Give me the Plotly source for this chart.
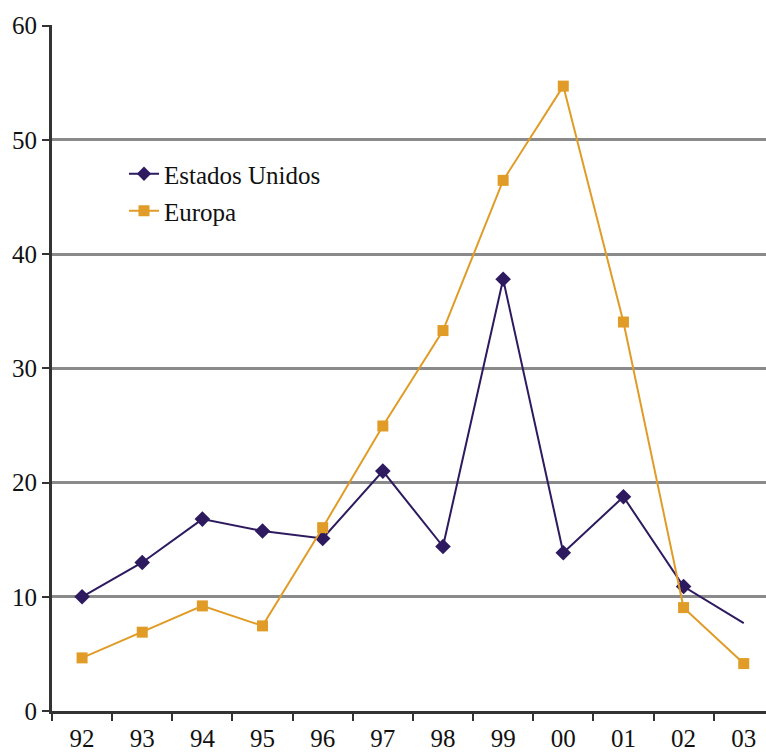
import plotly.graph_objects as go

years = ["92", "93", "94", "95", "96", "97", "98", "99", "00", "01", "02", "03"]
estados_unidos = [10.0, 13.0, 16.8, 15.75, 15.1, 21.0, 14.4, 37.8, 13.85, 18.75, 10.9, 7.7]
europa = [4.65, 6.9, 9.2, 7.45, 16.05, 24.95, 33.3, 46.45, 54.7, 34.05, 9.05, 4.15]

W, H = 766, 754
ML, MR, MT, MB = 52, 0, 25, 43
PW, PH = W - ML - MR, H - MT - MB
FONT = "Liberation Serif, Times New Roman, serif"
US_COLOR = "#2D1A5F"
EU_COLOR = "#E09C26"

# last US point is drawn as the end of the line only, without a marker
us_sizes = [12] * (len(years) - 1) + [0]

fig = go.Figure()
fig.add_trace(go.Scatter(
    x=years, y=estados_unidos, name="Estados Unidos", mode="lines+markers",
    line=dict(color=US_COLOR, width=2),
    marker=dict(symbol="diamond", size=us_sizes, color=US_COLOR,
                line=dict(width=0), opacity=1),
    legend="legend", showlegend=True,
))
fig.add_trace(go.Scatter(
    x=years, y=europa, name="Europa", mode="lines+markers",
    line=dict(color=EU_COLOR, width=2),
    marker=dict(symbol="square", size=11, color=EU_COLOR, line=dict(width=0)),
    legend="legend2", showlegend=True,
))


def px_x(px):
    return (px - ML) / PW


def px_y(py):
    return (H - MB - py) / PH


legend_style = dict(
    font=dict(family=FONT, size=25, color="#111111"),
    bgcolor="rgba(0,0,0,0)", borderwidth=0,
    xanchor="left", yanchor="middle", visible=True,
)

fig.update_layout(
    width=W, height=H,
    showlegend=True,
    margin=dict(l=ML, r=MR, t=MT, b=MB, autoexpand=False),
    paper_bgcolor="white", plot_bgcolor="white",
    font=dict(family=FONT, size=25, color="#111111"),
    legend=dict(x=px_x(124), y=px_y(174), **legend_style),
    legend2=dict(x=px_x(124), y=px_y(211), **legend_style),
    xaxis=dict(
        type="category",
        range=[-0.5, 11.37],
        tickson="boundaries",
        ticks="outside", ticklen=7, tickwidth=2, tickcolor="#333333",
        showline=True, linecolor="#333333", linewidth=3,
        showgrid=False, zeroline=False,
        ticklabelstandoff=3,
    ),
    yaxis=dict(
        range=[0, 60.05],
        tickvals=[0, 10, 20, 30, 40, 50, 60],
        ticks="outside", ticklen=7, tickwidth=2, tickcolor="#333333",
        showline=True, linecolor="#333333", linewidth=3,
        showgrid=True, gridcolor="#8a8a8a", gridwidth=2.5,
        zeroline=False,
        ticklabelstandoff=0,
    ),
)

fig.write_html("out.html")
